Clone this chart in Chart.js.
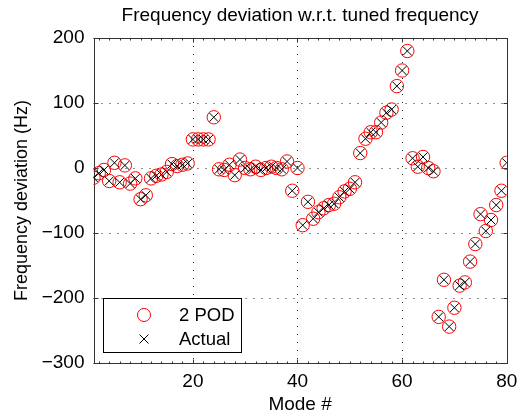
<!DOCTYPE html>
<html>
<head>
<meta charset="utf-8">
<script src="https://cdn.jsdelivr.net/npm/chart.js@4/dist/chart.umd.min.js"></script>
<style>
html,body{margin:0;padding:0;background:#fff;}
#wrap{width:517px;height:417px;}
</style>
</head>
<body>
<div id="wrap"><canvas id="c" width="517" height="417"></canvas></div>
<script>
const modes = [1,2,3,4,5,6,7,8,9,10,11,12,13,14,15,16,17,18,19,20,21,22,23,24,25,26,27,28,29,30,31,32,33,34,35,36,37,38,39,40,41,42,43,44,45,46,47,48,49,50,51,52,53,54,55,56,57,58,59,60,61,62,63,64,65,66,67,68,69,70,71,72,73,74,75,76,77,78,79,80];
const podValues = [-15,-8,-3,-20,8,-22,4,-24,-16,-48,-42,-16,-12,-10,-6,6,3,5,7,44,44,44,44,78,-2,-3,5,-11,13,0,-2,2,-3,0,2,0,-2,10,-35,0,-88,-52,-78,-68,-62,-57,-55,-45,-36,-32,-22,23,45,55,55,70,85,90,126,150,180,15,2,17,0,-5,-229,-172,-244,-215,-181,-176,-144,-117,-71,-97,-80,-57,-35,8];
const actualValues = [-15,-8,-3,-20,8,-22,4,-24,-16,-48,-42,-16,-12,-10,-6,6,3,5,7,44,44,44,44,78,-2,-3,5,-11,13,0,-2,2,-3,0,2,0,-2,10,-35,0,-88,-52,-78,-68,-62,-57,-55,-45,-36,-32,-22,23,45,55,55,70,85,90,126,150,180,15,2,17,0,-5,-229,-172,-244,-215,-181,-176,-144,-117,-71,-97,-80,-57,-35,8];
const xTicks = [20,40,60,80];
const yTicks = [-300,-200,-100,0,100,200];
const seriesNames = ['2 POD','Actual'];
const titleText = 'Frequency deviation w.r.t. tuned frequency';
const xLabel = 'Mode #';
const yLabel = 'Frequency deviation (Hz)';

const FONT = '"Liberation Sans", Arial, Helvetica, sans-serif';
const FS = 19;

const frame = {
  id: 'frame',
  beforeDatasetsDraw(chart) {
    const {ctx, chartArea: a, scales: {x, y}} = chart;
    ctx.save();
    ctx.strokeStyle = '#222';
    ctx.lineWidth = 1;
    ctx.setLineDash([1, 7]);
    xTicks.forEach(v => {
      const px = Math.round(x.getPixelForValue(v)) + 0.5;
      ctx.beginPath(); ctx.moveTo(px, a.top); ctx.lineTo(px, a.bottom); ctx.stroke();
    });
    yTicks.forEach(v => {
      const py = Math.round(y.getPixelForValue(v)) + 0.5;
      ctx.beginPath(); ctx.moveTo(a.left, py); ctx.lineTo(a.right, py); ctx.stroke();
    });
    ctx.setLineDash([]);
    ctx.strokeStyle = '#333';
    const L = Math.round(a.left) + 0.5, R = Math.round(a.right) + 0.5, T = Math.round(a.top) + 0.5, B = Math.round(a.bottom) + 0.5;
    ctx.strokeRect(L, T, R - L, B - T);
    ctx.beginPath();
    for (let v = 2; v < 80; v += 2) {
      const px = Math.round(x.getPixelForValue(v)) + 0.5;
      ctx.moveTo(px, B); ctx.lineTo(px, B - 2);
      ctx.moveTo(px, T); ctx.lineTo(px, T + 2);
    }
    xTicks.forEach(v => {
      const px = Math.round(x.getPixelForValue(v)) + 0.5;
      ctx.moveTo(px, B); ctx.lineTo(px, B - 4);
      ctx.moveTo(px, T); ctx.lineTo(px, T + 4);
    });
    yTicks.forEach(v => {
      const py = Math.round(y.getPixelForValue(v)) + 0.5;
      ctx.moveTo(L, py); ctx.lineTo(L + 4, py);
      ctx.moveTo(R, py); ctx.lineTo(R - 4, py);
    });
    ctx.stroke();
    ctx.restore();
  },
  afterDraw(chart) {
    const {ctx} = chart;
    ctx.save();
    const bx = 103.5, by = 298.5, bw = 138, bh = 54;
    ctx.fillStyle = '#fff';
    ctx.fillRect(bx, by, bw, bh);
    ctx.strokeStyle = '#000';
    ctx.lineWidth = 1;
    ctx.strokeRect(bx, by, bw, bh);
    ctx.strokeStyle = '#ff0000';
    ctx.beginPath(); ctx.arc(144, 315, 6.5, 0, Math.PI * 2); ctx.stroke();
    ctx.strokeStyle = '#000';
    ctx.beginPath();
    ctx.moveTo(139.5, 334.5); ctx.lineTo(148.5, 343.5);
    ctx.moveTo(148.5, 334.5); ctx.lineTo(139.5, 343.5);
    ctx.stroke();
    ctx.fillStyle = '#000';
    ctx.font = '18.5px ' + FONT;
    ctx.textBaseline = 'middle';
    ctx.textAlign = 'left';
    ctx.fillText(seriesNames[0], 179, 316);
    ctx.fillText(seriesNames[1], 179, 340);
    ctx.restore();
  }
};

new Chart(document.getElementById('c'), {
  type: 'scatter',
  data: {
    datasets: [
      {
        label: seriesNames[1],
        data: modes.map((m, i) => ({x: m, y: actualValues[i]})),
        pointStyle: 'crossRot',
        pointRadius: 6.2,
        pointHoverRadius: 6.2,
        borderColor: '#000',
        backgroundColor: '#000',
        borderWidth: 1,
        showLine: false
      },
      {
        label: seriesNames[0],
        data: modes.map((m, i) => ({x: m, y: podValues[i]})),
        pointStyle: 'circle',
        pointRadius: 6.7,
        pointHoverRadius: 6.7,
        borderColor: '#ff0000',
        backgroundColor: 'rgba(0,0,0,0)',
        borderWidth: 1,
        showLine: false
      }
    ]
  },
  options: {
    responsive: false,
    animation: false,
    events: [],
    layout: {padding: {left: 0, right: 10.3, top: 0, bottom: 0}},
    plugins: {
      legend: {display: false},
      tooltip: {enabled: false},
      title: {
        display: true,
        text: titleText,
        fullSize: false,
        color: '#000',
        font: {family: FONT, size: FS, weight: 'normal', lineHeight: 1.2},
        padding: {top: 4.6, bottom: 10.6}
      }
    },
    scales: {
      x: {
        type: 'linear',
        min: 1, max: 80,
        afterBuildTicks: s => { s.ticks = xTicks.map(v => ({value: v})); },
        afterFit: s => { s.height = 54; s.paddingLeft = 0; s.paddingRight = 0; },
        grid: {display: false, drawTicks: false},
        border: {display: false},
        ticks: {color: '#000', font: {family: FONT, size: FS}, padding: 7, maxRotation: 0, autoSkip: false},
        title: {display: true, text: xLabel, color: '#000', font: {family: FONT, size: FS}, padding: {top: 0, bottom: 1}}
      },
      y: {
        type: 'linear',
        min: -300, max: 200,
        afterBuildTicks: s => { s.ticks = yTicks.map(v => ({value: v})); },
        afterFit: s => { s.width = 93.5; s.paddingTop = 0; s.paddingBottom = 0; },
        grid: {display: false, drawTicks: false},
        border: {display: false},
        ticks: {color: '#000', font: {family: FONT, size: FS}, padding: 9, autoSkip: false,
          callback: v => String(v).replace('-', '\u2212')},
        title: {display: true, text: yLabel, color: '#000', font: {family: FONT, size: 18}, padding: {top: 11.2, bottom: 0}}
      }
    }
  },
  plugins: [frame]
});
</script>
</body>
</html>
